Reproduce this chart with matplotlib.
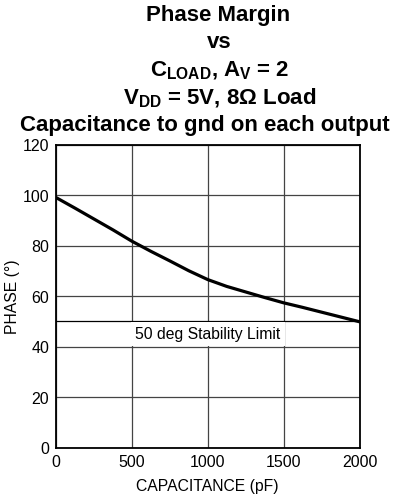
import matplotlib
matplotlib.use("Agg")
import matplotlib.pyplot as plt

# phase margin vs load capacitance
capacitance_pf = [0, 125, 250, 375, 500, 625, 750, 875, 1000, 1125, 1250,
                  1375, 1500, 1625, 1750, 1875, 2000]
phase_deg = [99, 94.8, 90.5, 86.2, 81.7, 77.7, 73.9, 70.0, 66.5, 63.8, 61.6,
             59.4, 57.3, 55.5, 53.6, 51.7, 49.8]

x_ticks = [0, 500, 1000, 1500, 2000]
y_ticks = [0, 20, 40, 60, 80, 100, 120]
stability_limit = 50

plt.rcParams['font.family'] = ['Liberation Sans', 'DejaVu Sans']
plt.rcParams['mathtext.fontset'] = 'custom'
plt.rcParams['mathtext.rm'] = 'Liberation Sans'
plt.rcParams['mathtext.bf'] = 'Liberation Sans:bold'
plt.rcParams['mathtext.it'] = 'Liberation Sans:italic'

fig = plt.figure(figsize=(4.01, 5.02), dpi=100)
ax = fig.add_axes([56 / 401, 1 - 448.5 / 502, (359.5 - 56) / 401, (448.5 - 145.5) / 502])

# title block, one line at a time
title_lines = [
    "Phase Margin",
    "vs",
    r"$\mathbf{C_{LOAD}}$, $\mathbf{A_{V}}$ = 2",
    r"$\mathbf{V_{DD}}$ = 5V, 8Ω Load",
    "Capacitance to gnd on each output",
]
title_y = [15, 43, 71, 98, 125]
title_x = [218, 219, 220, 220, 205]
for line, xpix, ypix in zip(title_lines, title_x, title_y):
    fig.text(xpix / 401, 1 - ypix / 502, line, ha='center', va='center',
             fontsize=16, fontweight='bold')

ax.plot(capacitance_pf, phase_deg, color='black', linewidth=2.3, zorder=4)

ax.set_xlim(0, 2000)
ax.set_ylim(0, 120)
ax.set_xticks(x_ticks)
ax.set_yticks(y_ticks)
ax.tick_params(length=0, labelsize=11.5, pad=5)
ax.grid(True, color='#444444', linewidth=0.9)
for sp in ax.spines.values():
    sp.set_linewidth(1.3)

# stability limit line and its label
ax.axhline(stability_limit, color='black', linewidth=0.9, zorder=3)
ax.text(1000, 45, "50 deg Stability Limit", ha='center', va='center',
        fontsize=11.3, zorder=5,
        bbox=dict(facecolor='white', edgecolor='none', pad=3))

ax.set_xlabel("CAPACITANCE (pF)", fontsize=11.3, labelpad=6)
ax.set_ylabel("PHASE (°)", fontsize=11.3, labelpad=2)

fig.savefig("out.png", dpi=100)
